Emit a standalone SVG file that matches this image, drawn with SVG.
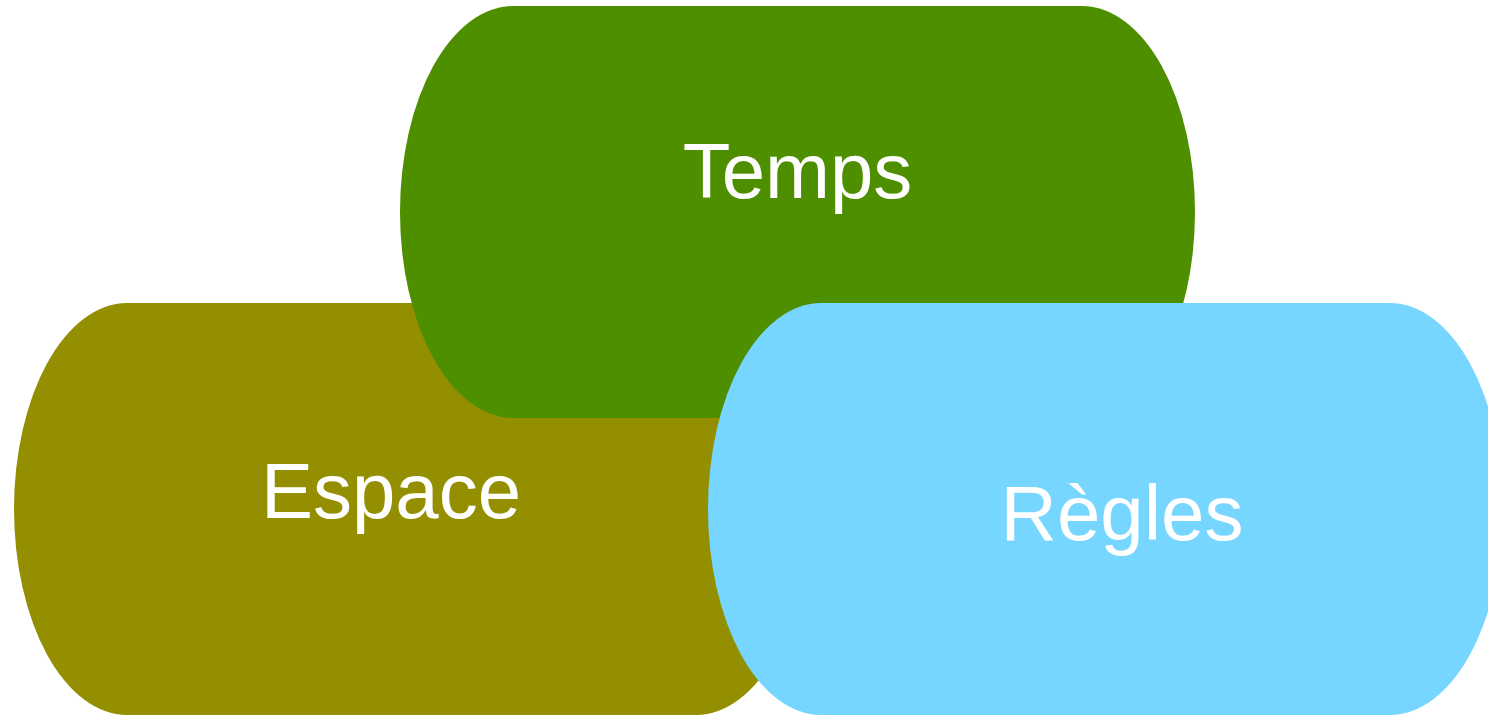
<svg xmlns="http://www.w3.org/2000/svg" width="1488" height="715" viewBox="0 0 1488 715">
<style>
.lbl{font-family:"Liberation Sans",Arial,sans-serif;font-size:78px;fill:#FFFFFF;text-anchor:middle}
</style>
<rect width="1488" height="715" fill="#FFFFFF"/>
<g id="node-espace">
<rect x="14" y="303" width="795" height="412" rx="113" ry="206" fill="#938F00"/>
<text class="lbl" x="391" y="518">Espace</text>
</g>
<g id="node-temps">
<rect x="400" y="6" width="795" height="412" rx="113" ry="206" fill="#4E8F00"/>
<text class="lbl" x="797.5" y="198">Temps</text>
</g>
<g id="node-regles">
<rect x="708" y="303" width="795" height="412" rx="113" ry="206" fill="#76D6FF"/>
<text class="lbl" x="1122" y="540">Règles</text>
</g>
<g id="connectors"></g>
</svg>
